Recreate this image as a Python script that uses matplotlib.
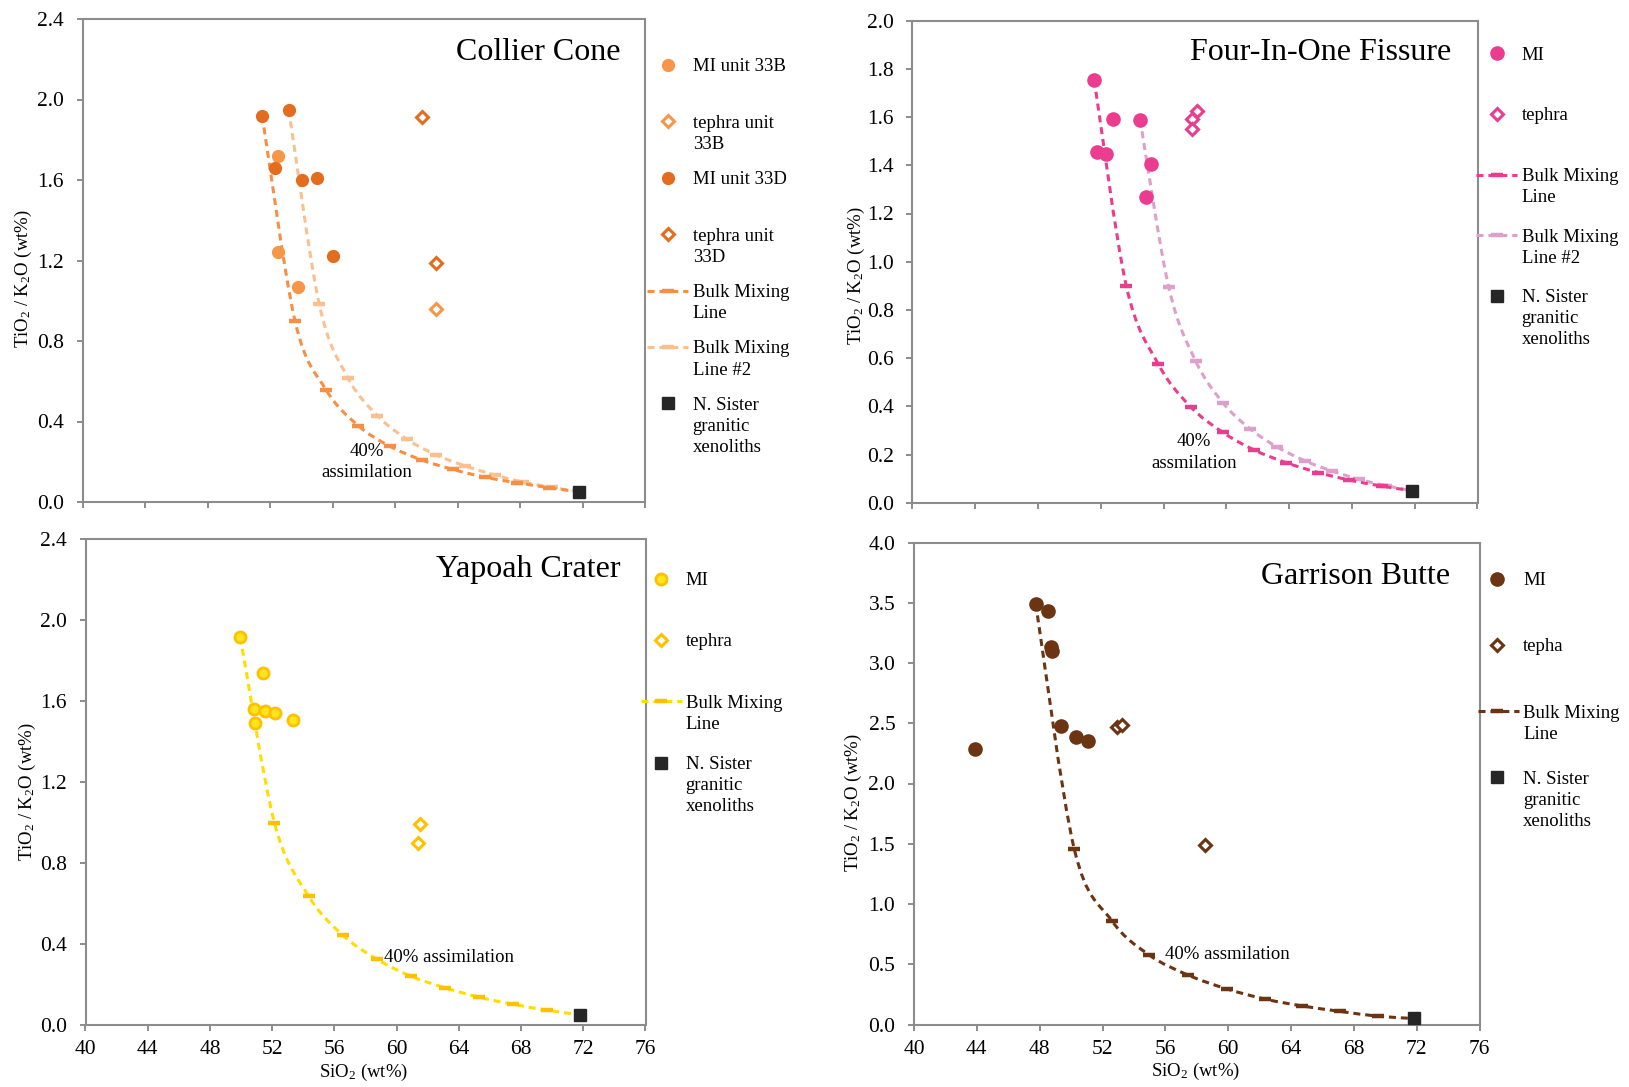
import numpy as np
import matplotlib
matplotlib.use('Agg')
import matplotlib.pyplot as plt
from matplotlib.path import Path
from matplotlib.patches import PathPatch
from matplotlib.lines import Line2D

plt.rcParams['font.family'] = ['Liberation Serif', 'DejaVu Serif']
plt.rcParams['mathtext.fontset'] = 'custom'
plt.rcParams['mathtext.rm'] = 'Liberation Serif'
plt.rcParams['mathtext.it'] = 'Liberation Serif:italic'

# ---- data ----
# Collier Cone
cc_mi33b_x = [52.5, 52.5, 53.8]
cc_mi33b_y = [1.72, 1.24, 1.07]
cc_mi33d_x = [51.5, 53.2, 52.3, 54.05, 55.0, 56.05]
cc_mi33d_y = [1.92, 1.95, 1.66, 1.60, 1.61, 1.22]
cc_teph33b_x = [62.6]
cc_teph33b_y = [0.96]
cc_teph33d_x = [61.7, 62.6]
cc_teph33d_y = [1.915, 1.19]
cc_mix1_x = [51.5, 53.6, 55.6, 57.65, 59.65, 61.7, 63.7, 65.75, 67.8, 69.85, 71.8]
cc_mix1_y = [1.92, 0.90, 0.556, 0.379, 0.278, 0.209, 0.162, 0.123, 0.096, 0.071, 0.05]
cc_mix2_x = [53.2, 55.15, 56.98, 58.87, 60.78, 62.63, 64.5, 66.4, 68.18, 70.03, 71.8]
cc_mix2_y = [1.95, 0.984, 0.618, 0.429, 0.311, 0.234, 0.179, 0.134, 0.099, 0.073, 0.05]

# Four-In-One Fissure
fo_mi_x = [51.58, 52.75, 54.5, 51.75, 52.35, 55.2, 54.9]
fo_mi_y = [1.754, 1.593, 1.59, 1.454, 1.448, 1.404, 1.269]
fo_teph_x = [58.15, 57.83, 57.8]
fo_teph_y = [1.626, 1.594, 1.552]
fo_mix1_x = [51.58, 53.62, 55.67, 57.72, 59.77, 61.76, 63.81, 65.86, 67.84, 69.89, 71.8]
fo_mix1_y = [1.754, 0.90, 0.574, 0.398, 0.292, 0.219, 0.166, 0.125, 0.094, 0.069, 0.05]
fo_mix2_x = [54.5, 56.32, 58.04, 59.77, 61.5, 63.21, 64.99, 66.71, 68.44, 70.16, 71.8]
fo_mix2_y = [1.59, 0.896, 0.588, 0.415, 0.307, 0.232, 0.174, 0.132, 0.097, 0.071, 0.05]

# Yapoah Crater
yc_mi_x = [49.95, 51.4, 50.83, 51.54, 52.21, 50.9, 53.33]
yc_mi_y = [1.916, 1.74, 1.561, 1.551, 1.54, 1.49, 1.506]
yc_teph_x = [61.49, 61.36]
yc_teph_y = [0.994, 0.899]
yc_mix_x = [49.95, 52.15, 54.34, 56.53, 58.73, 60.92, 63.11, 65.31, 67.5, 69.69, 71.8]
yc_mix_y = [1.916, 0.997, 0.637, 0.444, 0.325, 0.241, 0.184, 0.137, 0.102, 0.073, 0.05]

# Garrison Butte
gb_mi_x = [47.75, 48.55, 48.7, 48.8, 49.37, 50.33, 51.09, 43.86]
gb_mi_y = [3.493, 3.433, 3.13, 3.10, 2.48, 2.389, 2.356, 2.284]
gb_teph_x = [52.9, 53.23, 58.54]
gb_teph_y = [2.468, 2.483, 1.493]
gb_mix_x = [47.75, 50.2, 52.6, 54.98, 57.45, 59.9, 62.34, 64.71, 67.12, 69.53, 71.8]
gb_mix_y = [3.493, 1.457, 0.86, 0.576, 0.41, 0.296, 0.211, 0.154, 0.109, 0.069, 0.05]

# N. Sister granitic xenoliths
xen_x = [71.8]
xen_y = [0.05]

W, H = 1629, 1087
fig = plt.figure(figsize=(W / 100, H / 100), dpi=100)

SPINE = '#8C8C8C'
DASH = (0, (2.3, 1.6))
LSP = 1.32


def px_axes(l, t, r, b):
    return fig.add_axes([l / W, 1 - b / H, (r - l) / W, (b - t) / H])


def smooth(x, y):
    # Excel-style smoothed line through the points (cubic Bezier pieces)
    p = np.column_stack([x, y]).astype(float)
    n = len(p)
    verts, codes = [p[0]], [Path.MOVETO]
    for i in range(n - 1):
        p0, p1 = p[max(i - 1, 0)], p[i]
        p2, p3 = p[i + 1], p[min(i + 2, n - 1)]
        verts += [p1 + (p2 - p0) / 6, p2 - (p3 - p1) / 6, p2]
        codes += [Path.CURVE4] * 3
    return Path(verts, codes)


def mixing(ax, x, y, color, tick_color=None):
    ax.add_patch(PathPatch(smooth(x, y), fill=False, edgecolor=color,
                           lw=2.2, linestyle=DASH, zorder=2))
    ax.plot(x[1:-1], y[1:-1], ls='none', marker='_', ms=8, mew=3.2,
            color=tick_color or color, zorder=2)


def setup(ax, ymax, ystep, ylabel_xy, bottom):
    ax.set_xlim(40, 76)
    ax.set_ylim(0, ymax)
    ax.set_xticks(np.arange(40, 77, 4))
    ax.set_yticks(np.arange(0, ymax + 1e-9, ystep))
    ax.yaxis.set_major_formatter(matplotlib.ticker.FormatStrFormatter('%.1f'))
    for s in ax.spines.values():
        s.set_color(SPINE)
        s.set_linewidth(1.5)
    ax.tick_params(axis='both', direction='out', length=4, width=1.4,
                   color=SPINE, labelsize=15.5)
    ax.tick_params(axis='y', pad=9.5)
    ax.tick_params(axis='x', pad=7, labelbottom=bottom)
    ax.set_ylabel(r'TiO$_2$ / K$_2$O (wt%)', fontsize=13.5)
    ax.yaxis.set_label_coords(*ylabel_xy)
    if bottom:
        ax.set_xlabel(r'SiO$_2$ (wt%)', fontsize=13.5)
        ax.xaxis.set_label_coords(0.497, -0.075)


def legend(entries, mx, tx, lx0, lx1, y0, dy):
    # Excel-like legend: equal steps, marker level with the first text line
    for i, (label, kind, kw) in enumerate(entries):
        ypx = y0 + i * dy
        y = 1 - ypx / H
        if kind == 'line':
            fig.add_artist(Line2D([lx0 / W, lx1 / W], [y, y], transform=fig.transFigure,
                                  color=kw['color'], lw=2.2, linestyle=DASH))
            fig.add_artist(Line2D([mx / W], [y], transform=fig.transFigure, ls='none',
                                  marker='_', ms=8, mew=3.2,
                                  color=kw.get('tick', kw['color'])))
        else:
            fig.add_artist(Line2D([mx / W], [y], transform=fig.transFigure, ls='none', **kw))
        fig.text(tx / W, 1 - (ypx - 6.6) / H, label, fontsize=13.5, va='top', ha='left',
                 linespacing=LSP)


def circ(c, ms=8.5, ec=None, mew=1):
    return dict(marker='o', ms=ms, mfc=c, mec=ec or c, mew=mew)


def diam(c):
    return dict(marker='D', ms=6.5, mfc='white', mec=c, mew=2.2)


SQ = dict(marker='s', ms=8.5, mfc='#262626', mec='#262626')

# ---------------- Collier Cone ----------------
O1, O2, OM1, OM2 = '#F79646', '#E46C1E', '#F58F45', '#FAC090'
ax = px_axes(82.5, 19, 645, 502)
setup(ax, 2.4, 0.4, (-0.086, 0.463), False)
mixing(ax, cc_mix2_x, cc_mix2_y, OM2)
mixing(ax, cc_mix1_x, cc_mix1_y, OM1)
ax.plot(cc_mi33b_x, cc_mi33b_y, ls='none', zorder=3, **circ(O1))
ax.plot(cc_mi33d_x, cc_mi33d_y, ls='none', zorder=3, **circ(O2))
ax.plot(cc_teph33b_x, cc_teph33b_y, ls='none', zorder=3, **diam(O1))
ax.plot(cc_teph33d_x, cc_teph33d_y, ls='none', zorder=3, **diam(O2))
ax.plot(xen_x, xen_y, ls='none', zorder=4, **SQ)
ax.text(0.956, 0.931, 'Collier Cone', transform=ax.transAxes, fontsize=23,
        ha='right', va='center')
ax.text(58.2, 0.197, '40%\nassimilation', fontsize=13.5, ha='center', va='center',
        linespacing=LSP)
legend([('MI unit 33B', 'pt', circ(O1)),
        ('tephra unit\n33B', 'pt', diam(O1)),
        ('MI unit 33D', 'pt', circ(O2)),
        ('tephra unit\n33D', 'pt', diam(O2)),
        ('Bulk Mixing\nLine', 'line', dict(color=OM1)),
        ('Bulk Mixing\nLine #2', 'line', dict(color=OM2)),
        ('N. Sister\ngranitic\nxenoliths', 'pt', SQ)],
       667.7, 692.7, 646.7, 688.3, 65, 56.4)

# ---------------- Four-In-One Fissure ----------------
P1, PM2 = '#EB3C8F', '#DDA0CB'
ax = px_axes(912.5, 20.7, 1477.5, 502.7)
setup(ax, 2.0, 0.2, (-0.08, 0.472), False)
mixing(ax, fo_mix2_x, fo_mix2_y, PM2)
mixing(ax, fo_mix1_x, fo_mix1_y, P1)
ax.plot(fo_mi_x, fo_mi_y, ls='none', zorder=3, **circ(P1, ms=9.5))
ax.plot(fo_teph_x, fo_teph_y, ls='none', zorder=3, **diam(P1))
ax.plot(xen_x, xen_y, ls='none', zorder=4, **SQ)
ax.text(0.954, 0.935, 'Four-In-One Fissure', transform=ax.transAxes, fontsize=23,
        ha='right', va='center')
ax.text(57.94, 0.208, '40%\nassmilation', fontsize=13.5, ha='center', va='center',
        linespacing=LSP)
legend([('MI', 'pt', circ(P1, ms=9.5)),
        ('tephra', 'pt', diam(P1)),
        ('Bulk Mixing\nLine', 'line', dict(color=P1)),
        ('Bulk Mixing\nLine #2', 'line', dict(color=PM2)),
        ('N. Sister\ngranitic\nxenoliths', 'pt', SQ)],
       1496.7, 1521.7, 1476, 1516.7, 53.3, 60.6)

# ---------------- Yapoah Crater ----------------
Y1, Y2, YL = '#FFE61A', '#FFC000', '#FFDD00'
ax = px_axes(85.5, 539, 645.5, 1025)
setup(ax, 2.4, 0.4, (-0.084, 0.48), True)
mixing(ax, yc_mix_x, yc_mix_y, YL, tick_color=Y2)
ax.plot(yc_mi_x, yc_mi_y, ls='none', zorder=3, **circ(Y1, ms=8, ec=Y2, mew=2))
ax.plot(yc_teph_x, yc_teph_y, ls='none', zorder=3, **diam(Y2))
ax.plot(xen_x, xen_y, ls='none', zorder=4, **SQ)
ax.text(0.956, 0.938, 'Yapoah Crater', transform=ax.transAxes, fontsize=23,
        ha='right', va='center')
ax.text(59.2, 0.334, '40% assimilation', fontsize=13.5, ha='left', va='center')
legend([('MI', 'pt', circ(Y1, ms=8, ec=Y2, mew=2)),
        ('tephra', 'pt', diam(Y2)),
        ('Bulk Mixing\nLine', 'line', dict(color=YL, tick=Y2)),
        ('N. Sister\ngranitic\nxenoliths', 'pt', SQ)],
       660.8, 685.7, 641, 681.6, 578.7, 61.3)

# ---------------- Garrison Butte ----------------
B1 = '#6B3413'
ax = px_axes(914, 542.5, 1479.5, 1024.5)
setup(ax, 4.0, 0.5, (-0.088, 0.46), True)
mixing(ax, gb_mix_x, gb_mix_y, B1)
ax.plot(gb_mi_x, gb_mi_y, ls='none', zorder=3, **circ(B1, ms=9.5))
ax.plot(gb_teph_x, gb_teph_y, ls='none', zorder=3, **diam(B1))
ax.plot(xen_x, xen_y, ls='none', zorder=4, **SQ)
ax.text(0.948, 0.930, 'Garrison Butte', transform=ax.transAxes, fontsize=23,
        ha='right', va='center')
ax.text(55.95, 0.582, '40% assmilation', fontsize=13.5, ha='left', va='center')
legend([('MI', 'pt', circ(B1, ms=9.5)),
        ('tepha', 'pt', diam(B1)),
        ('Bulk Mixing\nLine', 'line', dict(color=B1)),
        ('N. Sister\ngranitic\nxenoliths', 'pt', SQ)],
       1497.2, 1523.2, 1477.5, 1519, 578.7, 66.2)

fig.savefig('out.png', dpi=100)
